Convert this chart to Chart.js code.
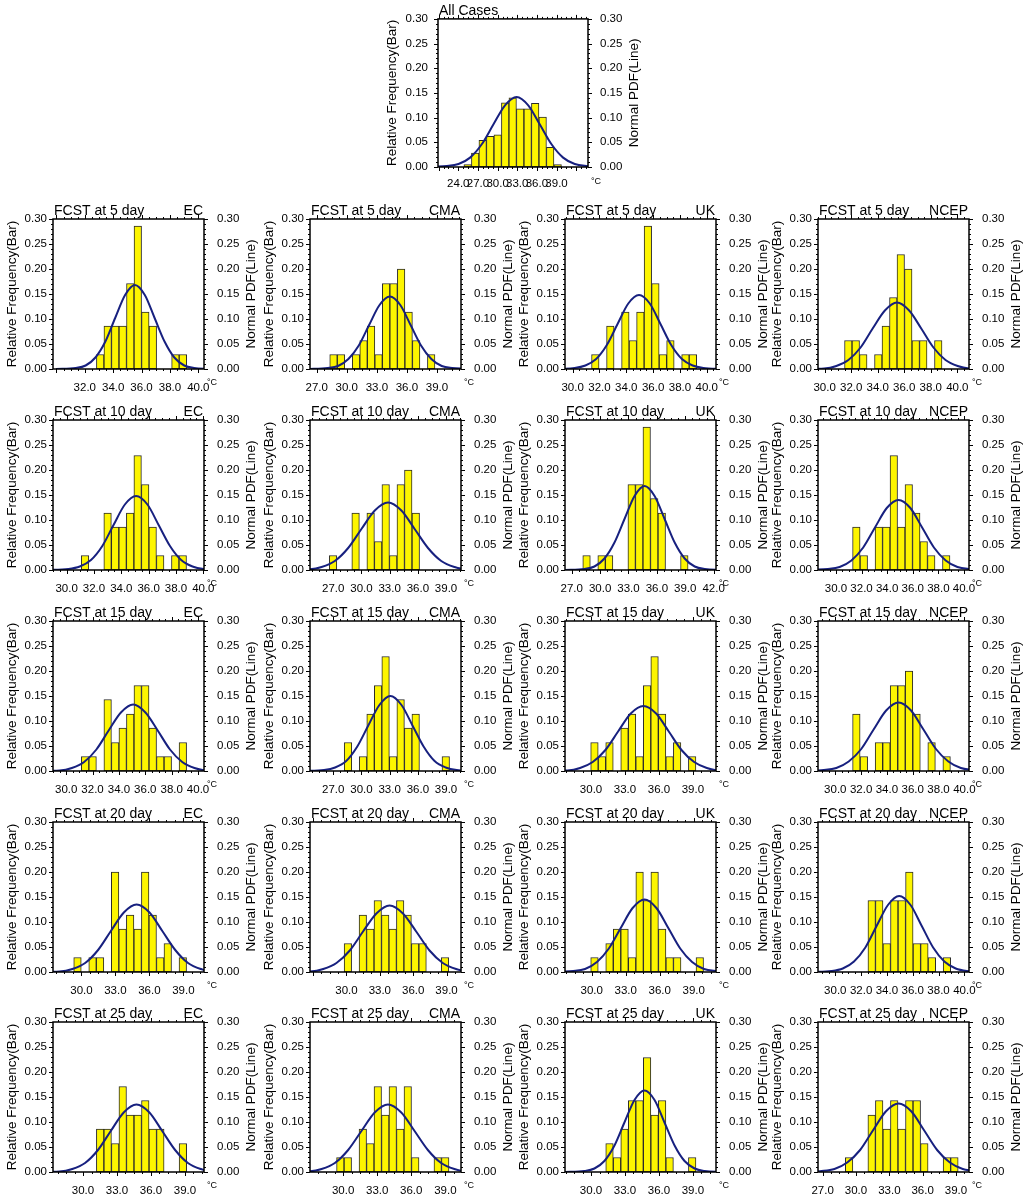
<!DOCTYPE html>
<html>
<head>
<meta charset="utf-8">
<script src="https://cdn.jsdelivr.net/npm/chart.js@4.4.1/dist/chart.umd.min.js"></script>
<style>
  body { margin: 0; background: #fff; width: 1024px; height: 1198px; position: relative; overflow: hidden; }
  canvas { position: absolute; }
</style>
</head>
<body>
<script>
// ---- labels ----
const leadDays = [5, 10, 15, 20, 25];
const models = ['EC', 'CMA', 'UK', 'NCEP'];
const yTicks = [0, 0.05, 0.10, 0.15, 0.20, 0.25, 0.30];

// x tick sets (°C)
const ticksAll = [24, 27, 30, 33, 36, 39];
const ticks30by2 = [30, 32, 34, 36, 38, 40];
const ticks32by2 = [32, 34, 36, 38, 40];
const ticks27by3 = [27, 30, 33, 36, 39];
const ticks30by3 = [30, 33, 36, 39];
const ticks27to42 = [27, 30, 33, 36, 39, 42];

// ---- All Cases ----
const allRange = [20.9, 43.8];
const allBin = [24.86, 1.145];          // first bin left edge, bin width
const allFreq = [0.005, 0.028, 0.054, 0.062, 0.065, 0.13, 0.14, 0.118, 0.118, 0.129, 0.101, 0.04, 0.005];
const allPdfX = [18.7, 22.25, 24.03, 25.8, 27.58, 29.35, 31.13, 32.9, 34.68, 36.45, 38.23, 40.0, 41.78, 43.55, 47.1];
const allPdfY = [0, 0.002, 0.006, 0.019, 0.046, 0.086, 0.125, 0.142, 0.125, 0.086, 0.046, 0.019, 0.006, 0.002, 0];

// ---- 5 day ----
const ec5Range = [29.76, 40.4];
const ec5Bin = [32.82, 0.53];
const ec5Freq = [0.029, 0.086, 0.086, 0.086, 0.171, 0.286, 0.114, 0.086, 0, 0, 0.029, 0.029];
const ec5PdfX = [29.97, 31.36, 32.06, 32.75, 33.45, 34.14, 34.84, 35.53, 36.23, 36.92, 37.62, 38.31, 39.01, 39.7, 41.09];
const ec5PdfY = [0, 0.002, 0.007, 0.023, 0.055, 0.102, 0.148, 0.168, 0.148, 0.102, 0.055, 0.023, 0.007, 0.002, 0];

const cma5Range = [26.33, 41.4];
const cma5Bin = [28.3, 0.75];
const cma5Freq = [0.029, 0.029, 0, 0.029, 0.057, 0.086, 0.029, 0.171, 0.171, 0.2, 0.114, 0.057, 0, 0.029];
const cma5PdfX = [26.02, 28.09, 29.13, 30.16, 31.2, 32.23, 33.27, 34.3, 35.34, 36.37, 37.41, 38.44, 39.48, 40.51, 42.58];
const cma5PdfY = [0, 0.002, 0.006, 0.02, 0.047, 0.088, 0.128, 0.145, 0.128, 0.088, 0.047, 0.02, 0.006, 0.002, 0];

const uk5Range = [29.43, 40.69];
const uk5Bin = [31.41, 0.56];
const uk5Freq = [0.029, 0, 0.086, 0, 0.114, 0.057, 0.114, 0.286, 0.171, 0.029, 0.057, 0, 0.029, 0.029];
const uk5PdfX = [28.55, 30.15, 30.95, 31.75, 32.55, 33.35, 34.15, 34.95, 35.75, 36.55, 37.35, 38.15, 38.95, 39.75, 41.35];
const uk5PdfY = [0, 0.002, 0.007, 0.02, 0.048, 0.09, 0.131, 0.148, 0.131, 0.09, 0.048, 0.02, 0.007, 0.002, 0];

const ncep5Range = [29.5, 40.88];
const ncep5Bin = [31.5, 0.565];
const ncep5Freq = [0.057, 0.057, 0.029, 0, 0.029, 0.086, 0.143, 0.229, 0.2, 0.057, 0.057, 0, 0.057];
const ncep5PdfX = [28.13, 29.96, 30.88, 31.79, 32.71, 33.62, 34.54, 35.45, 36.37, 37.28, 38.2, 39.11, 40.03, 40.94, 42.77];
const ncep5PdfY = [0, 0.001, 0.006, 0.018, 0.043, 0.081, 0.117, 0.133, 0.117, 0.081, 0.043, 0.018, 0.006, 0.001, 0];

// ---- 10 day ----
const ec10Range = [29.0, 40.05];
const ec10Bin = [31.07, 0.55];
const ec10Freq = [0.029, 0, 0, 0.114, 0.086, 0.086, 0.114, 0.229, 0.171, 0.086, 0.029, 0, 0.029, 0.029];
const ec10PdfX = [28.48, 30.13, 30.96, 31.78, 32.61, 33.43, 34.26, 35.08, 35.91, 36.73, 37.56, 38.38, 39.21, 40.03, 41.68];
const ec10PdfY = [0, 0.002, 0.007, 0.02, 0.048, 0.09, 0.131, 0.148, 0.131, 0.09, 0.048, 0.02, 0.007, 0.002, 0];

const cma10Range = [24.53, 40.59];
const cma10Bin = [26.58, 0.8];
const cma10Freq = [0.029, 0, 0, 0.114, 0, 0.114, 0.057, 0.171, 0.029, 0.171, 0.2, 0.114];
const cma10PdfX = [21.51, 24.34, 25.76, 27.17, 28.59, 30.0, 31.42, 32.83, 34.25, 35.66, 37.08, 38.49, 39.91, 41.32, 44.15];
const cma10PdfY = [0, 0.001, 0.006, 0.018, 0.044, 0.082, 0.119, 0.135, 0.119, 0.082, 0.044, 0.018, 0.006, 0.001, 0];

const uk10Range = [26.29, 42.25];
const uk10Bin = [28.17, 0.795];
const uk10Freq = [0.029, 0, 0.029, 0.029, 0, 0, 0.171, 0.171, 0.286, 0.143, 0.114, 0, 0, 0.029];
const uk10PdfX = [26.22, 28.34, 29.4, 30.46, 31.52, 32.58, 33.64, 34.7, 35.76, 36.82, 37.88, 38.94, 40.0, 41.06, 43.18];
const uk10PdfY = [0, 0.002, 0.007, 0.023, 0.055, 0.102, 0.148, 0.168, 0.148, 0.102, 0.055, 0.023, 0.007, 0.002, 0];

const ncep10Range = [28.6, 40.39];
const ncep10Bin = [31.3, 0.585];
const ncep10Freq = [0.086, 0.029, 0, 0.086, 0.086, 0.229, 0.086, 0.171, 0.114, 0.057, 0.029, 0, 0.029];
const ncep10PdfX = [27.53, 29.37, 30.29, 31.21, 32.13, 33.05, 33.97, 34.89, 35.81, 36.73, 37.65, 38.57, 39.49, 40.41, 42.25];
const ncep10PdfY = [0, 0.002, 0.006, 0.019, 0.045, 0.085, 0.124, 0.14, 0.124, 0.085, 0.045, 0.019, 0.006, 0.002, 0];

// ---- 15 day ----
const ec15Range = [29.0, 40.45];
const ec15Bin = [31.15, 0.57];
const ec15Freq = [0.029, 0.029, 0, 0.143, 0.057, 0.086, 0.114, 0.171, 0.171, 0.086, 0.029, 0.029, 0, 0.057];
const ec15PdfX = [27.64, 29.5, 30.43, 31.36, 32.29, 33.22, 34.15, 35.08, 36.01, 36.94, 37.87, 38.8, 39.73, 40.66, 42.52];
const ec15PdfY = [0, 0.001, 0.006, 0.018, 0.043, 0.081, 0.117, 0.133, 0.117, 0.081, 0.043, 0.018, 0.006, 0.001, 0];

const cma15Range = [24.53, 40.59];
const cma15Bin = [28.17, 0.8];
const cma15Freq = [0.057, 0, 0.029, 0.114, 0.171, 0.229, 0.029, 0.143, 0.086, 0.114, 0, 0, 0, 0.029];
const cma15PdfX = [23.68, 26.03, 27.2, 28.38, 29.56, 30.73, 31.91, 33.08, 34.26, 35.43, 36.61, 37.78, 38.96, 40.13, 42.48];
const cma15PdfY = [0, 0.002, 0.007, 0.02, 0.049, 0.091, 0.132, 0.15, 0.132, 0.091, 0.049, 0.02, 0.007, 0.002, 0];

const uk15Range = [27.7, 41.04];
const uk15Bin = [29.97, 0.664];
const uk15Freq = [0.057, 0.029, 0.057, 0, 0.086, 0.114, 0.029, 0.171, 0.229, 0.114, 0.029, 0.057, 0, 0.029];
const uk15PdfX = [25.67, 27.91, 29.03, 30.15, 31.27, 32.39, 33.51, 34.63, 35.75, 36.87, 37.99, 39.11, 40.23, 41.35, 43.59];
const uk15PdfY = [0, 0.001, 0.006, 0.018, 0.042, 0.079, 0.115, 0.13, 0.115, 0.079, 0.042, 0.018, 0.006, 0.001, 0];

const ncep15Range = [28.66, 40.36];
const ncep15Bin = [31.34, 0.583];
const ncep15Freq = [0.114, 0.029, 0, 0.057, 0.057, 0.171, 0.171, 0.2, 0.114, 0, 0.057, 0, 0.029];
const ncep15PdfX = [27.18, 29.11, 30.08, 31.04, 32.01, 32.97, 33.94, 34.9, 35.87, 36.83, 37.8, 38.76, 39.73, 40.69, 42.62];
const ncep15PdfY = [0, 0.002, 0.006, 0.019, 0.044, 0.083, 0.121, 0.137, 0.121, 0.083, 0.044, 0.019, 0.006, 0.002, 0];

// ---- 20 day ----
const ec20Range = [27.49, 40.82];
const ec20Bin = [29.32, 0.664];
const ec20Freq = [0.029, 0, 0.029, 0.029, 0, 0.2, 0.086, 0.114, 0.086, 0.2, 0.114, 0.029, 0.057, 0, 0.029];
const ec20PdfX = [25.79, 28.06, 29.2, 30.33, 31.47, 32.6, 33.74, 34.87, 36.01, 37.14, 38.28, 39.41, 40.55, 41.68, 43.95];
const ec20PdfY = [0, 0.001, 0.006, 0.018, 0.044, 0.082, 0.119, 0.135, 0.119, 0.082, 0.044, 0.018, 0.006, 0.001, 0];

const cma20Range = [26.72, 40.3];
const cma20Bin = [29.79, 0.672];
const cma20Freq = [0.057, 0, 0.114, 0.086, 0.143, 0.114, 0.086, 0.143, 0.114, 0.057, 0.057, 0, 0, 0.029];
const cma20PdfX = [24.32, 26.71, 27.91, 29.1, 30.3, 31.49, 32.69, 33.88, 35.08, 36.27, 37.47, 38.66, 39.86, 41.05, 43.44];
const cma20PdfY = [0, 0.001, 0.006, 0.018, 0.043, 0.081, 0.117, 0.133, 0.117, 0.081, 0.043, 0.018, 0.006, 0.001, 0];

const uk20Range = [27.64, 40.97];
const uk20Bin = [29.91, 0.664];
const uk20Freq = [0.029, 0, 0.057, 0.086, 0.086, 0.029, 0.2, 0.143, 0.2, 0.086, 0.029, 0.029, 0, 0, 0.029];
const uk20PdfX = [26.26, 28.36, 29.41, 30.46, 31.51, 32.56, 33.61, 34.66, 35.71, 36.76, 37.81, 38.86, 39.91, 40.96, 43.06];
const uk20PdfY = [0, 0.002, 0.006, 0.02, 0.047, 0.088, 0.128, 0.145, 0.128, 0.088, 0.047, 0.02, 0.006, 0.002, 0];

const ncep20Range = [28.66, 40.36];
const ncep20Bin = [32.53, 0.583];
const ncep20Freq = [0.143, 0.143, 0.057, 0.143, 0.143, 0.2, 0.057, 0.057, 0.029, 0, 0.029];
const ncep20PdfX = [27.95, 29.7, 30.58, 31.45, 32.33, 33.2, 34.08, 34.95, 35.83, 36.7, 37.58, 38.45, 39.33, 40.2, 41.95];
const ncep20PdfY = [0, 0.002, 0.007, 0.021, 0.049, 0.092, 0.134, 0.152, 0.134, 0.092, 0.049, 0.021, 0.007, 0.002, 0];

// ---- 25 day ----
const ec25Range = [27.35, 40.68];
const ec25Bin = [31.18, 0.664];
const ec25Freq = [0.086, 0.086, 0.057, 0.171, 0.114, 0.114, 0.143, 0.086, 0.086, 0, 0, 0.057];
const ec25PdfX = [25.64, 27.91, 29.05, 30.18, 31.32, 32.45, 33.59, 34.72, 35.86, 36.99, 38.13, 39.26, 40.4, 41.53, 43.8];
const ec25PdfY = [0, 0.001, 0.006, 0.018, 0.044, 0.082, 0.119, 0.135, 0.119, 0.082, 0.044, 0.018, 0.006, 0.001, 0];

const cma25Range = [27.08, 40.38];
const cma25Bin = [29.42, 0.66];
const cma25Freq = [0.029, 0.029, 0, 0.086, 0.057, 0.171, 0.114, 0.171, 0.086, 0.171, 0.029, 0, 0, 0.029, 0.029];
const cma25PdfX = [24.59, 26.93, 28.1, 29.27, 30.44, 31.61, 32.78, 33.95, 35.12, 36.29, 37.46, 38.63, 39.8, 40.97, 43.31];
const cma25PdfY = [0, 0.001, 0.006, 0.018, 0.044, 0.082, 0.119, 0.135, 0.119, 0.082, 0.044, 0.018, 0.006, 0.001, 0];

const uk25Range = [27.7, 41.04];
const uk25Bin = [31.3, 0.664];
const uk25Freq = [0.057, 0.029, 0.086, 0.143, 0.143, 0.229, 0.114, 0.143, 0.029, 0, 0, 0.029];
const uk25PdfX = [27.64, 29.41, 30.3, 31.18, 32.07, 32.95, 33.84, 34.72, 35.61, 36.49, 37.38, 38.26, 39.15, 40.03, 41.8];
const uk25PdfY = [0, 0.002, 0.007, 0.022, 0.053, 0.099, 0.144, 0.163, 0.144, 0.099, 0.053, 0.022, 0.007, 0.002, 0];

const ncep25Range = [26.58, 40.17];
const ncep25Bin = [29.04, 0.677];
const ncep25Freq = [0.029, 0, 0, 0.114, 0.143, 0.086, 0.143, 0.086, 0.143, 0.143, 0.057, 0, 0, 0.029, 0.029];
const ncep25PdfX = [24.59, 26.9, 28.06, 29.21, 30.37, 31.52, 32.68, 33.83, 34.99, 36.14, 37.3, 38.45, 39.61, 40.76, 43.07];
const ncep25PdfY = [0, 0.002, 0.006, 0.019, 0.044, 0.083, 0.121, 0.137, 0.121, 0.083, 0.044, 0.019, 0.006, 0.002, 0];

const gridRows = [
  [
    { range: ec5Range, ticks: ticks32by2, bin: ec5Bin, freq: ec5Freq, pdfX: ec5PdfX, pdfY: ec5PdfY },
    { range: cma5Range, ticks: ticks27by3, bin: cma5Bin, freq: cma5Freq, pdfX: cma5PdfX, pdfY: cma5PdfY },
    { range: uk5Range, ticks: ticks30by2, bin: uk5Bin, freq: uk5Freq, pdfX: uk5PdfX, pdfY: uk5PdfY },
    { range: ncep5Range, ticks: ticks30by2, bin: ncep5Bin, freq: ncep5Freq, pdfX: ncep5PdfX, pdfY: ncep5PdfY }
  ],
  [
    { range: ec10Range, ticks: ticks30by2, bin: ec10Bin, freq: ec10Freq, pdfX: ec10PdfX, pdfY: ec10PdfY },
    { range: cma10Range, ticks: ticks27by3, bin: cma10Bin, freq: cma10Freq, pdfX: cma10PdfX, pdfY: cma10PdfY },
    { range: uk10Range, ticks: ticks27to42, bin: uk10Bin, freq: uk10Freq, pdfX: uk10PdfX, pdfY: uk10PdfY },
    { range: ncep10Range, ticks: ticks30by2, bin: ncep10Bin, freq: ncep10Freq, pdfX: ncep10PdfX, pdfY: ncep10PdfY }
  ],
  [
    { range: ec15Range, ticks: ticks30by2, bin: ec15Bin, freq: ec15Freq, pdfX: ec15PdfX, pdfY: ec15PdfY },
    { range: cma15Range, ticks: ticks27by3, bin: cma15Bin, freq: cma15Freq, pdfX: cma15PdfX, pdfY: cma15PdfY },
    { range: uk15Range, ticks: ticks30by3, bin: uk15Bin, freq: uk15Freq, pdfX: uk15PdfX, pdfY: uk15PdfY },
    { range: ncep15Range, ticks: ticks30by2, bin: ncep15Bin, freq: ncep15Freq, pdfX: ncep15PdfX, pdfY: ncep15PdfY }
  ],
  [
    { range: ec20Range, ticks: ticks30by3, bin: ec20Bin, freq: ec20Freq, pdfX: ec20PdfX, pdfY: ec20PdfY },
    { range: cma20Range, ticks: ticks30by3, bin: cma20Bin, freq: cma20Freq, pdfX: cma20PdfX, pdfY: cma20PdfY },
    { range: uk20Range, ticks: ticks30by3, bin: uk20Bin, freq: uk20Freq, pdfX: uk20PdfX, pdfY: uk20PdfY },
    { range: ncep20Range, ticks: ticks30by2, bin: ncep20Bin, freq: ncep20Freq, pdfX: ncep20PdfX, pdfY: ncep20PdfY }
  ],
  [
    { range: ec25Range, ticks: ticks30by3, bin: ec25Bin, freq: ec25Freq, pdfX: ec25PdfX, pdfY: ec25PdfY },
    { range: cma25Range, ticks: ticks30by3, bin: cma25Bin, freq: cma25Freq, pdfX: cma25PdfX, pdfY: cma25PdfY },
    { range: uk25Range, ticks: ticks30by3, bin: uk25Bin, freq: uk25Freq, pdfX: uk25PdfX, pdfY: uk25PdfY },
    { range: ncep25Range, ticks: ticks27by3, bin: ncep25Bin, freq: ncep25Freq, pdfX: ncep25PdfX, pdfY: ncep25PdfY }
  ]
];

// ---- drawing ----
const FONT = '"Liberation Sans", Arial, Helvetica, sans-serif';
Chart.defaults.font.family = FONT;
Chart.defaults.color = '#000';

// box, outward tick marks, panel titles, right axis title and unit
const frame = {
  id: 'frame',
  afterDatasetsDraw(chart, args, o) {
    const { ctx, chartArea: a, scales } = chart;
    const xs = scales.x, ys = scales.y;
    ctx.save();
    ctx.strokeStyle = '#000';
    ctx.lineWidth = 1;
    ctx.beginPath();
    for (let k = 0; k <= 30; k++) {
      const py = Math.round(ys.getPixelForValue(k / 100)) + 0.5;
      const len = k % 5 === 0 ? 4 : 2;
      ctx.moveTo(a.left, py); ctx.lineTo(a.left - len, py);
      ctx.moveTo(a.right, py); ctx.lineTo(a.right + len, py);
    }
    const step = (o.ticks[1] - o.ticks[0]) / 4;
    for (let k = -60; k <= 60; k++) {
      const v = o.ticks[0] + k * step;
      if (v < xs.min || v > xs.max) continue;
      const px = Math.round(xs.getPixelForValue(v)) + 0.5;
      const len = k % 4 === 0 ? 4 : 2;
      ctx.moveTo(px, a.bottom); ctx.lineTo(px, a.bottom + len);
      ctx.moveTo(px, a.top); ctx.lineTo(px, a.top - len);
    }
    ctx.stroke();
    ctx.lineWidth = 1.5;
    ctx.strokeRect(a.left, a.top, a.width, a.height);

    ctx.fillStyle = '#000';
    ctx.font = '14px ' + FONT;
    ctx.textBaseline = 'alphabetic';
    ctx.textAlign = 'left';
    ctx.fillText(o.title, a.left + 1, a.top - 4);
    if (o.model) {
      ctx.textAlign = 'right';
      ctx.fillText(o.model, a.right - 1, a.top - 4);
    }
    ctx.font = '9px ' + FONT;
    ctx.textAlign = 'left';
    ctx.textBaseline = 'middle';
    ctx.fillText('°C', a.right + 3, a.bottom + o.unitDy);

    ctx.translate(a.right + o.rTitle, (a.top + a.bottom) / 2);
    ctx.rotate(-Math.PI / 2);
    ctx.font = '13.5px ' + FONT;
    ctx.textAlign = 'center';
    ctx.fillText('Normal PDF(Line)', 0, 0);
    ctx.restore();
  }
};

function drawPanel(box, p, title, model) {
  const c = document.createElement('canvas');
  c.width = box.w;
  c.height = box.h;
  c.style.left = box.left + 'px';
  c.style.top = box.top + 'px';
  document.body.appendChild(c);

  const [start, width] = p.bin;
  const bars = p.freq.map((f, i) => ({ x: start + (i + 0.5) * width, y: f > 0 ? f : null }));
  const curve = p.pdfX.map((x, i) => ({ x, y: p.pdfY[i] }));
  const tickFont = { size: box.tickSize, family: FONT };
  const noGrid = { display: false, drawTicks: false };

  new Chart(c, {
    type: 'bar',
    data: {
      datasets: [
        {
          type: 'line', data: curve, yAxisID: 'y1', order: 0,
          borderColor: '#17207f', borderWidth: 2, pointRadius: 0,
          cubicInterpolationMode: 'monotone', fill: false
        },
        {
          type: 'bar', data: bars, yAxisID: 'y', order: 1,
          backgroundColor: '#fdf500', borderColor: '#2a2a2a', borderWidth: 1,
          borderSkipped: false, barPercentage: 1, categoryPercentage: 1, grouped: false
        }
      ]
    },
    options: {
      responsive: false,
      animation: false,
      events: [],
      layout: { padding: { top: box.padTop, left: 0, right: 0, bottom: 0 } },
      plugins: {
        legend: { display: false },
        tooltip: { enabled: false },
        frame: { title, model, ticks: p.ticks, rTitle: box.rTitle, unitDy: box.unitDy }
      },
      scales: {
        x: {
          type: 'linear', min: p.range[0], max: p.range[1], offset: false,
          grid: noGrid, border: { display: false },
          afterBuildTicks: ax => { ax.ticks = p.ticks.map(v => ({ value: v })); },
          afterFit: ax => { ax.height = box.xH; },
          ticks: { font: tickFont, padding: box.xPad, autoSkip: false, maxRotation: 0, callback: v => v.toFixed(1) }
        },
        y: {
          type: 'linear', position: 'left', min: 0, max: 0.3,
          grid: noGrid, border: { display: false },
          afterBuildTicks: ax => { ax.ticks = yTicks.map(v => ({ value: v })); },
          afterFit: ax => { ax.width = box.yW; },
          ticks: { font: tickFont, padding: box.lPad, callback: v => v.toFixed(2) },
          title: { display: true, text: 'Relative Frequency(Bar)', font: { size: 13.5, family: FONT }, padding: { top: 4, bottom: 0 } }
        },
        y1: {
          type: 'linear', position: 'right', min: 0, max: 0.3,
          grid: noGrid, border: { display: false },
          afterBuildTicks: ax => { ax.ticks = yTicks.map(v => ({ value: v })); },
          afterFit: ax => { ax.width = box.y1W; },
          ticks: { font: tickFont, padding: box.rPad, callback: v => v.toFixed(2) }
        }
      }
    },
    plugins: [frame]
  });
}

// top panel: all cases
drawPanel(
  { left: 380, top: 0, w: 264, h: 195, padTop: 17, yW: 58, y1W: 56, xH: 28,
    lPad: 10, rPad: 12, xPad: 10, rTitle: 46, unitDy: 15, tickSize: 11.5 },
  { range: allRange, ticks: ticksAll, bin: allBin, freq: allFreq, pdfX: allPdfX, pdfY: allPdfY },
  'All Cases', ''
);

// grid: rows are lead days, columns are models
const colLeft = [0, 257, 512, 765];
const rowTop = [195, 396, 597, 798, 998];
gridRows.forEach((row, r) => {
  row.forEach((p, col) => {
    drawPanel(
      { left: colLeft[col], top: rowTop[r], w: 259, h: 200, padTop: 24, yW: 53, y1W: 55, xH: 26,
        lPad: 6, rPad: 13, xPad: 12, rTitle: 47, unitDy: 14, tickSize: 11.5 },
      p, 'FCST at ' + leadDays[r] + ' day', models[col]
    );
  });
});
</script>
</body>
</html>
